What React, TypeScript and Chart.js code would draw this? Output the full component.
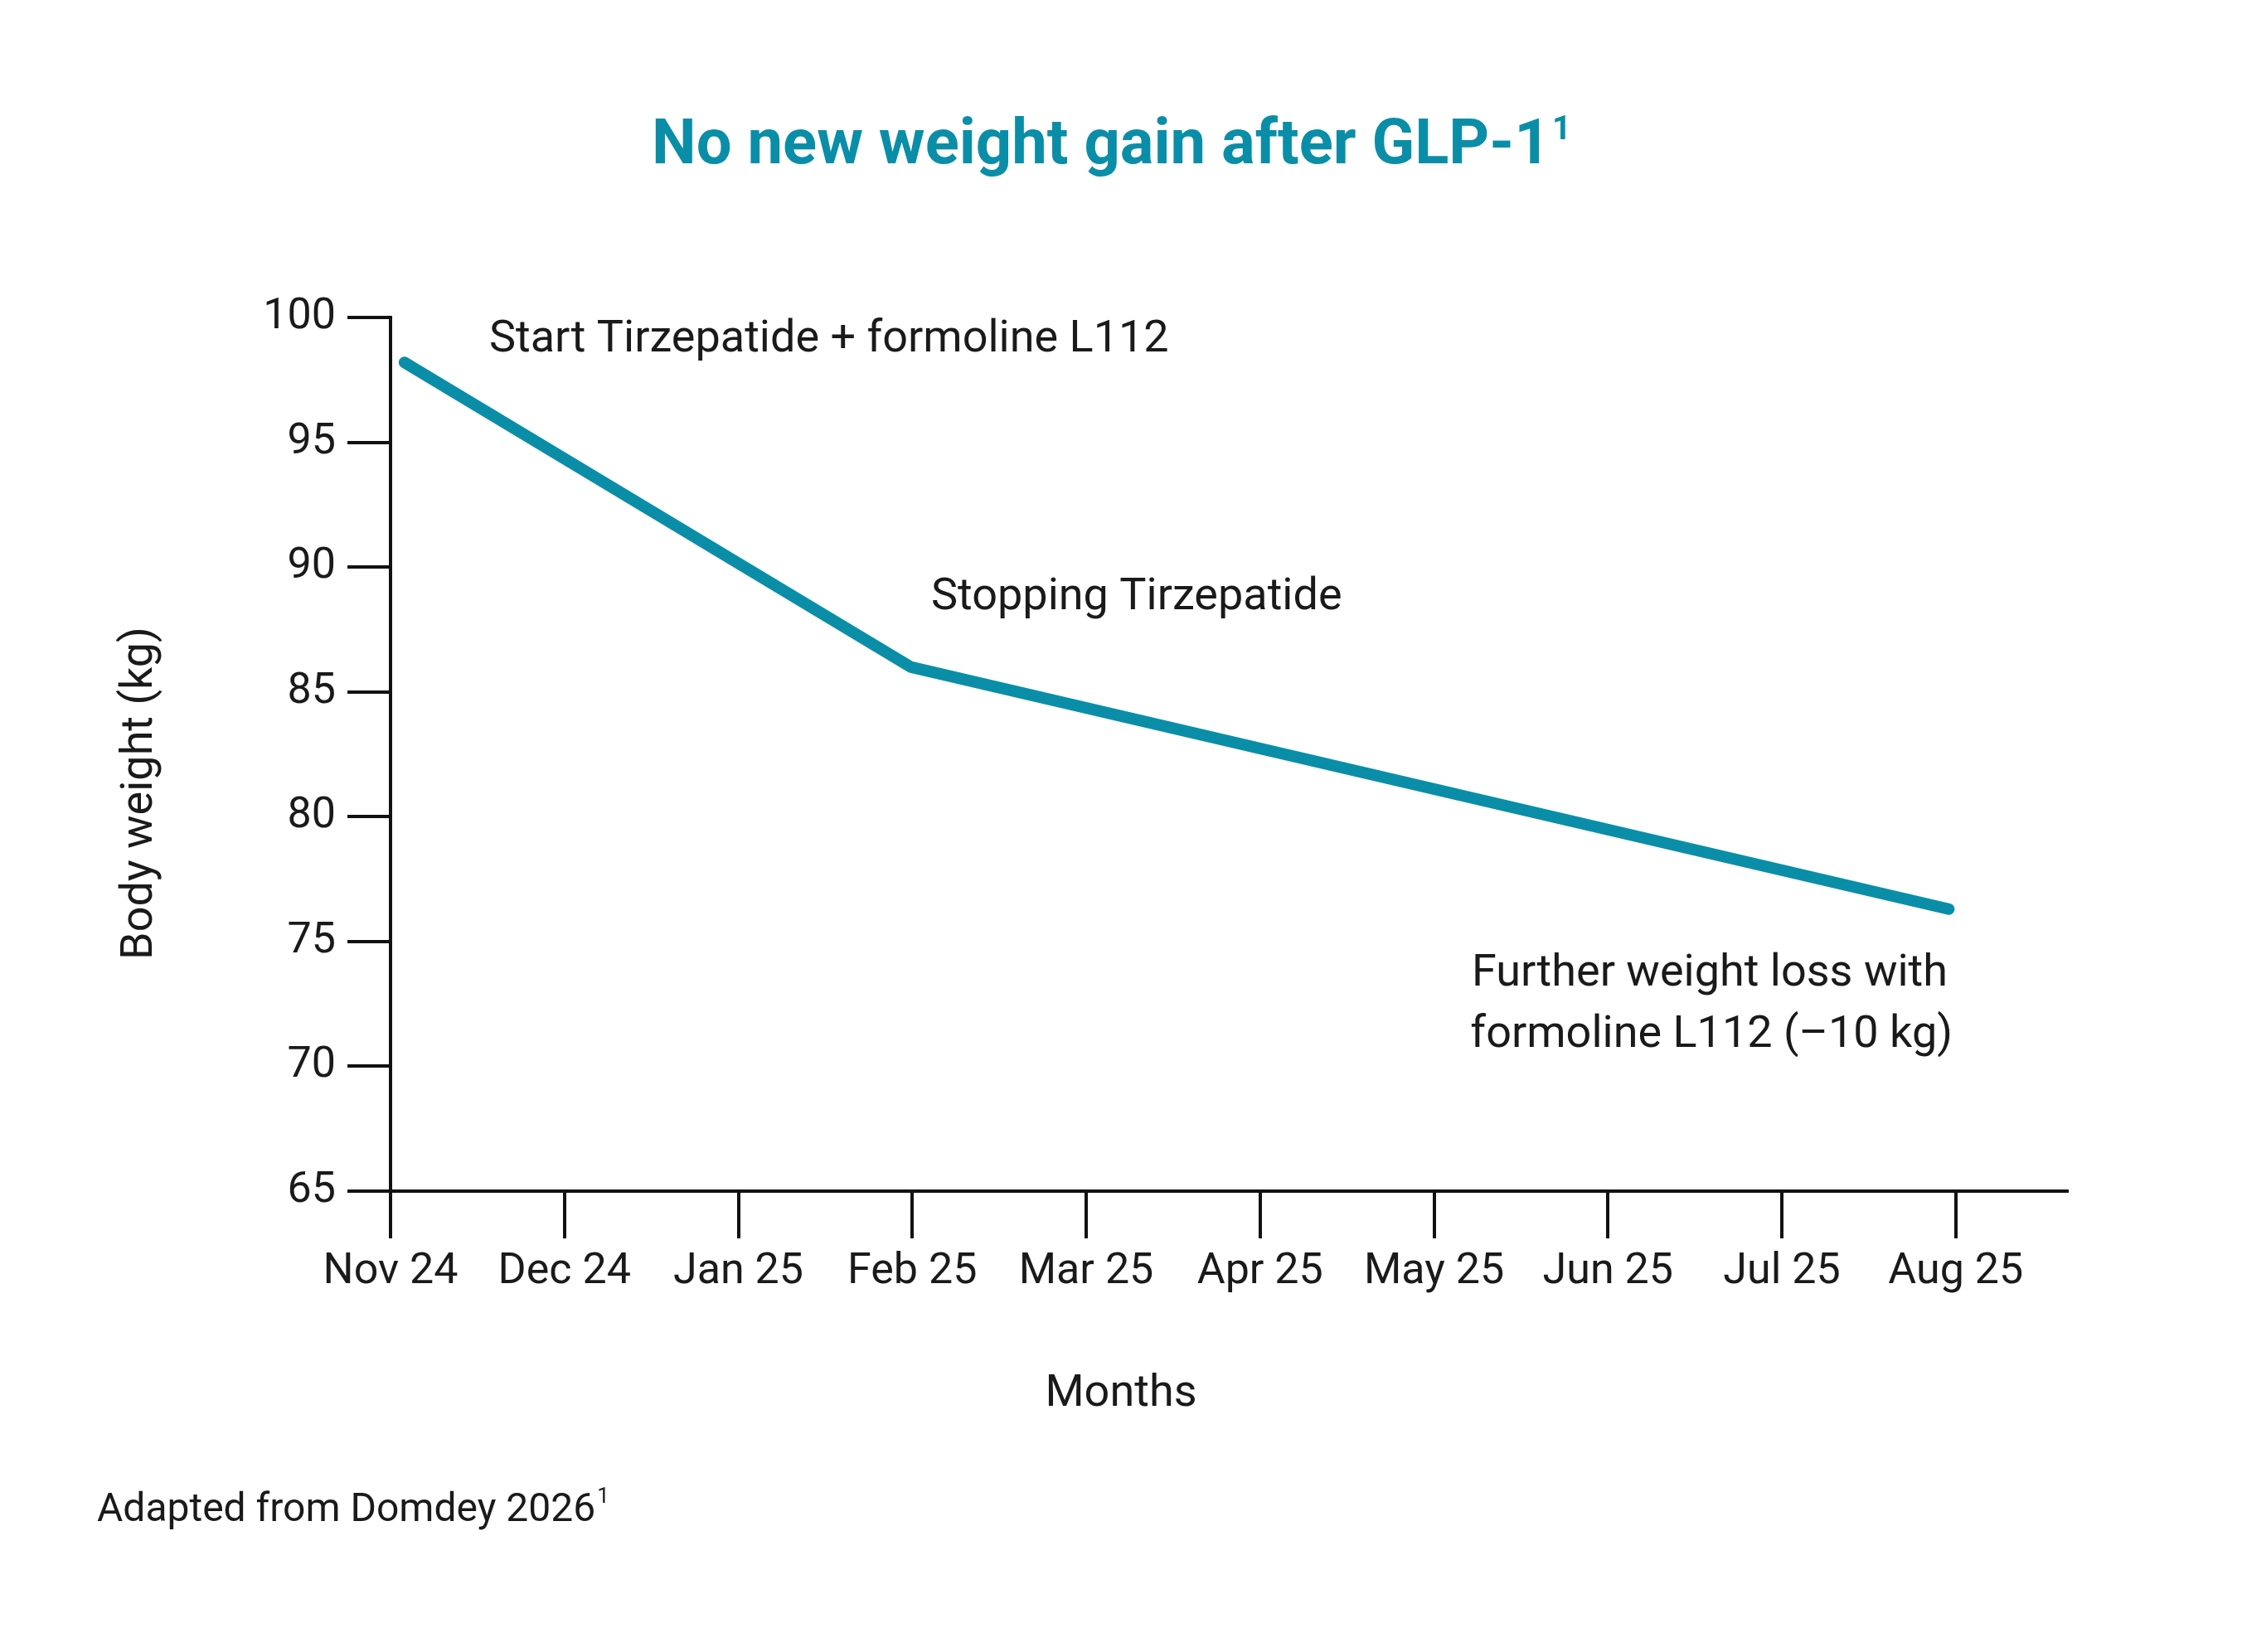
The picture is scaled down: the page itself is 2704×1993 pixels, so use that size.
import React, { useEffect, useRef } from "react";
import { Chart, registerables } from "chart.js";
Chart.register(...registerables);

const months = ["Nov 24","Dec 24","Jan 25","Feb 25","Mar 25","Apr 25","May 25","Jun 25","Jul 25","Aug 25"];
const pointX = [0.08, 2.99, 8.96];
const weights = [98.2, 86.0, 76.3];
const yTicks = [65, 70, 75, 80, 85, 90, 95, 100];
const TEAL = "#0a8ea8";
const FONT = "Roboto, 'Noto Sans', sans-serif";

const textPlugin = {
  id: "texts",
  afterDraw(chart: any) {
    const c = chart.ctx;
    c.save();
    c.fillStyle = "#1a1a1a";
    c.textBaseline = "middle";
    c.font = `400 54px ${FONT}`;
    c.textAlign = "left";
    c.fillText("Start Tirzepatide + formoline L112", 590, 410);
    c.fillText("Stopping Tirzepatide", 1123, 721);
    c.textAlign = "right";
    c.fillText("Further weight loss with", 2349, 1175);
    c.fillText("formoline L112 (\u201310 kg)", 2355, 1249);
    c.textAlign = "center";
    c.fillText("Months", 1352, 1682);
    c.save();
    c.translate(169, 957);
    c.rotate(-Math.PI / 2);
    c.fillText("Body weight (kg)", 0, 0);
    c.restore();
    // title
    c.fillStyle = TEAL;
    c.font = `700 76px ${FONT}`;
    const t = "No new weight gain after GLP-1";
    const w = c.measureText(t).width;
    c.textAlign = "left";
    c.fillText(t, 1328 - w / 2, 178);
    c.font = `700 40px ${FONT}`;
    c.fillText("1", 1328 + w / 2 + 2, 158);
    // footnote
    c.fillStyle = "#1a1a1a";
    c.font = `400 48px ${FONT}`;
    const f = "Adapted from Domdey 2026";
    c.fillText(f, 117, 1823);
    const fw = c.measureText(f).width;
    c.font = `400 26px ${FONT}`;
    c.fillText("1", 117 + fw + 2, 1806);
    c.restore();
  },
};

export default function App() {
  const ref = useRef<HTMLCanvasElement>(null);
  useEffect(() => {
    const chart = new Chart(ref.current!, {
      type: "line",
      data: {
        datasets: [{
          data: pointX.map((x, i) => ({ x, y: weights[i] })),
          borderColor: TEAL,
          borderWidth: 14,
          pointRadius: 0,
          borderCapStyle: "round",
          borderJoinStyle: "round",
        }],
      },
      options: {
        animation: false,
        responsive: false,
        layout: { padding: { left: 0, right: 211, top: 383, bottom: 256 } },
        plugins: { legend: { display: false }, tooltip: { enabled: false } },
        scales: {
          x: {
            type: "linear",
            min: 0,
            max: 9.64,
            afterFit: (s: any) => { s.height = 300; },
            afterBuildTicks: (s: any) => { s.ticks = months.map((_, i) => ({ value: i })); },
            ticks: {
              autoSkip: false,
              maxRotation: 0,
              color: "#1a1a1a",
              font: { family: FONT, size: 52 },
              padding: 10,
              callback: (v: any) => months[v] ?? "",
            },
            grid: { drawOnChartArea: false, tickLength: 57, color: "#111", lineWidth: 4 },
            border: { color: "#111", width: 4 },
          },
          y: {
            min: 65,
            max: 100,
            afterFit: (s: any) => { s.width = 471; },
            afterBuildTicks: (s: any) => { s.ticks = yTicks.map((v) => ({ value: v })); },
            ticks: { color: "#1a1a1a", font: { family: FONT, size: 52 }, padding: 14 },
            grid: { drawOnChartArea: false, tickLength: 52, color: "#111", lineWidth: 4 },
            border: { color: "#111", width: 4 },
          },
        },
      },
      plugins: [textPlugin],
    } as any);
    return () => chart.destroy();
  }, []);
  return (
    <div style={{ position: "absolute", left: 0, top: 0, width: 2704, height: 1993, background: "#fff" }}>
      <canvas ref={ref} width={2704} height={1993} style={{ width: 2704, height: 1993 }} />
    </div>
  );
}
